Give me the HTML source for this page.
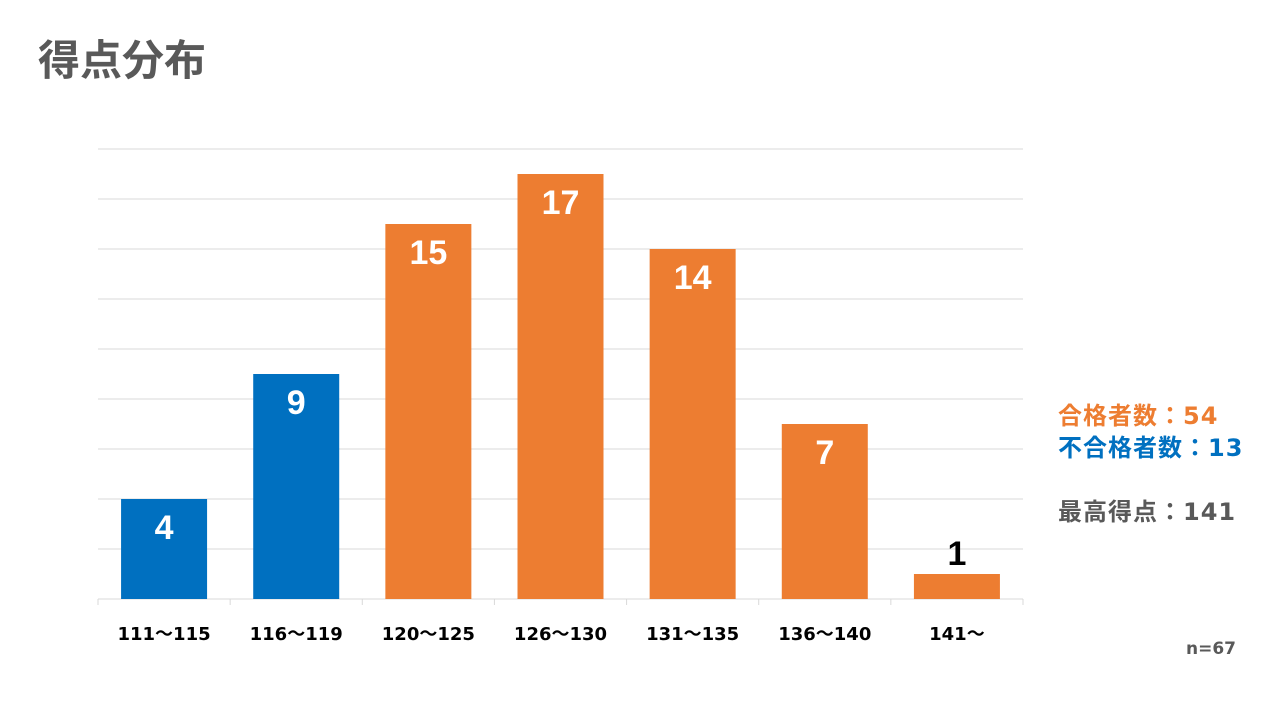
<!DOCTYPE html>
<html><head><meta charset="utf-8">
<style>
html,body{margin:0;padding:0;background:#fff;}
body{width:1280px;height:720px;position:relative;overflow:hidden;font-family:"DejaVu Sans","Noto Sans CJK JP",sans-serif;}
.t{position:absolute;font-weight:bold;white-space:nowrap;}
</style></head><body>
<div class="t" style="left:38px;top:33px;font-size:42px;color:#595959;font-family:'Noto Sans CJK JP',sans-serif;line-height:1.2;">得点分布</div>
<svg id="chart" width="1280" height="720" style="position:absolute;left:0;top:0;"></svg>
<div class="t" style="left:1058px;top:396px;font-size:24px;letter-spacing:1px;color:#ED7D31;">合格者数：54</div>
<div class="t" style="left:1058px;top:428px;font-size:24px;letter-spacing:1px;color:#0070C0;">不合格者数：13</div>
<div class="t" style="left:1058px;top:492px;font-size:24px;letter-spacing:1px;color:#595959;">最高得点：141</div>
<div class="t" style="left:1186px;top:639px;font-size:17px;color:#595959;">n=67</div>
<script>
const categories=["111〜115","116〜119","120〜125","126〜130","131〜135","136〜140","141〜"];
const counts=[4,9,15,17,14,7,1];
const passed=[false,false,true,true,true,true,true];
const yMax=18;
const yTicks=[0,2,4,6,8,10,12,14,16,18];
const NS="http://www.w3.org/2000/svg";
const svg=document.getElementById("chart");
const x0=98,x1=1023,yBase=599,yTop=149;
const band=(x1-x0)/categories.length,barW=86;
const yS=v=>yBase-(v/yMax)*(yBase-yTop);
const xS=i=>x0+band*i+band/2;
function mk(t,a){const e=document.createElementNS(NS,t);for(const k in a)e.setAttribute(k,a[k]);svg.appendChild(e);return e;}
yTicks.forEach(v=>{
  const l=mk("line",{x1:x0,x2:x1,y1:yS(v),y2:yS(v),stroke:"#d9d9d9","stroke-width":1});
  
  
});
for(let i=0;i<=categories.length;i++){
  const x=x0+band*i;
  const t=mk("line",{x1:x,x2:x,y1:yBase,y2:yBase+6,stroke:"#d9d9d9"});
  
  
}
categories.forEach((c,i)=>{
  const v=counts[i],cx=xS(i),top=yS(v);
  const r=mk("rect",{x:cx-barW/2,y:top,width:barW,height:yBase-top,fill:passed[i]?"#ED7D31":"#0070C0"});
  
  
  const inside=(yBase-top)>45;
  const tx=mk("text",{x:cx,y:inside?top+40:top-9,"text-anchor":"middle","font-size":34,"font-weight":"bold",fill:inside?"#fff":"#000","font-family":"Liberation Sans, sans-serif"});
  tx.textContent=v;
  
  
  const lb=mk("text",{x:cx,y:640,"text-anchor":"middle","font-size":18,"font-weight":"bold",fill:"#000","font-family":"DejaVu Sans, Noto Sans CJK JP, sans-serif"});
  lb.textContent=c;
  
  
});
</script>
</body></html>
